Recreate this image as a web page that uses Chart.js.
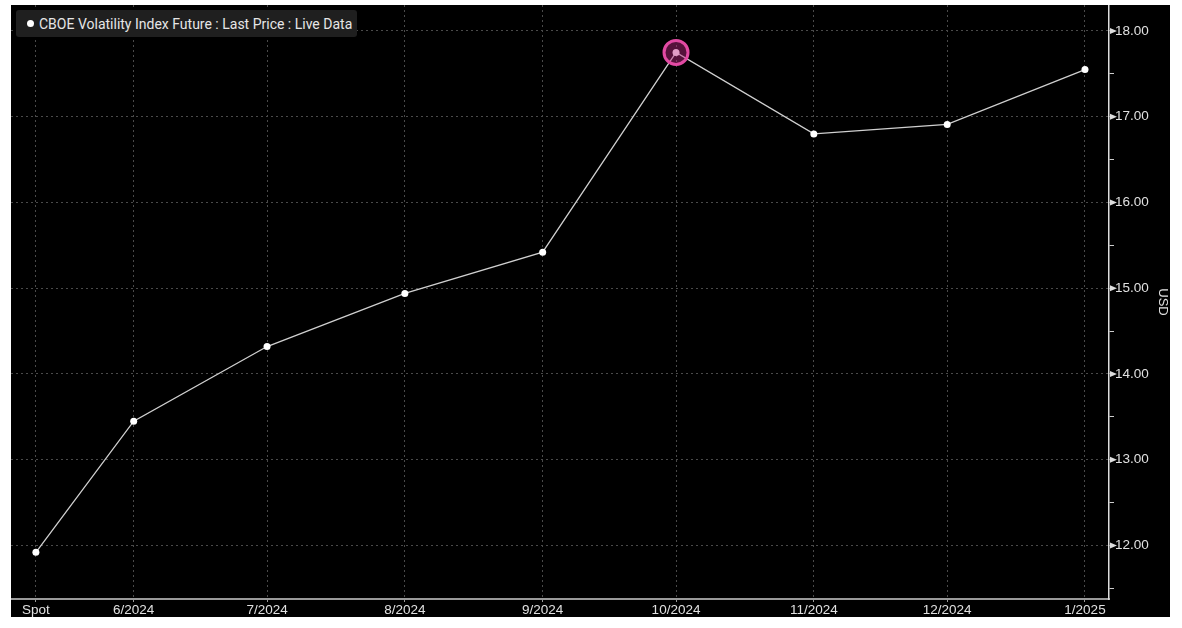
<!DOCTYPE html>
<html lang="en">
<head>
  <meta charset="UTF-8" />
  <title>CBOE Volatility Index Future</title>
  <script src="https://cdn.jsdelivr.net/npm/chart.js"></script>
  <style>
    *{margin:0;padding:0;box-sizing:border-box}
    body{background:#fff;width:1182px;height:628px;overflow:hidden;font-family:Roboto,'Liberation Sans',sans-serif}
    .wrap{position:absolute;left:11px;top:5px;width:1159px;height:612px;background:#000}
    #vixChart{width:100%;height:100%}
    .legend{
      position:absolute;left:16px;top:10px;width:341px;height:27px;padding:0 0 0 11px;
      background:#1f1f1f;border-radius:3px;color:#e6e6e6;font-size:14px;
      display:flex;align-items:center;white-space:nowrap
    }
    .legend-dot{width:7px;height:7px;border-radius:50%;background:#fff;margin-right:5px}
  </style>
</head>
<body>
  <div class="wrap"><canvas id="vixChart"></canvas></div>
  <div class="legend"><span class="legend-dot"></span>CBOE Volatility Index Future : Last Price : Live Data</div>

  <script>
    // contracts on the curve
    const labels = ['Spot', '6/2024', '7/2024', '8/2024', '9/2024', '10/2024', '11/2024', '12/2024', '1/2025'];
    const dates  = ['2024-05-10', '2024-06-01', '2024-07-01', '2024-08-01', '2024-09-01', '2024-10-01', '2024-11-01', '2024-12-01', '2025-01-01'];
    const prices = [11.92, 13.45, 14.32, 14.94, 15.42, 17.75, 16.80, 16.91, 17.55];
    const yTicks = [11.5, 12, 12.5, 13, 13.5, 14, 14.5, 15, 15.5, 16, 16.5, 17, 17.5, 18];
    const hiIdx = 5;

    // days since 1 Jun 2024, so the x axis keeps calendar spacing
    const base = Date.parse('2024-06-01');
    const days = dates.map(d => Math.round((Date.parse(d) - base) / 86400000));

    const pts = days.map((d, i) => ({ x: d, y: prices[i] }));

    // little arrow heads on the major y ticks
    const tickArrows = {
      id: 'tickArrows',
      afterDraw(chart) {
        const y = chart.scales.y, c = chart.ctx;
        c.save();
        c.fillStyle = '#ddd';
        y.ticks.forEach(t => {
          if (!Number.isInteger(t.value)) return;
          const py = y.getPixelForValue(t.value), px = y.left + 1;
          c.beginPath();
          c.moveTo(px, py - 3); c.lineTo(px + 7, py); c.lineTo(px, py + 3);
          c.closePath(); c.fill();
        });
        c.restore();
      }
    };

    new Chart(document.getElementById('vixChart').getContext('2d'), {
      type: 'line',
      data: {
        datasets: [{
          data: [pts[hiIdx]],
          showLine: false,
          pointRadius: 12,
          pointHoverRadius: 12,
          borderWidth: 3,
          pointBorderColor: '#e24aa3',
          pointBackgroundColor: 'rgba(190,40,130,.45)',
          order: 0
        }, {
          data: pts,
          borderColor: '#d0d0d0',
          borderWidth: 1.3,
          pointRadius: 3.5,
          pointBorderWidth: 0,
          pointBackgroundColor: '#fff',
          tension: 0,
          order: 1
        }]
      },
      options: {
        responsive: true,
        maintainAspectRatio: false,
        animation: false,
        layout: { padding: 0, autoPadding: false },
        plugins: { legend: { display: false }, tooltip: { enabled: false } },
        scales: {
          x: {
            type: 'linear',
            min: -27.6,
            max: 219.4,
            afterBuildTicks: s => { s.ticks = days.map(v => ({ value: v })); },
            afterFit: s => { s.height = 18; s.paddingLeft = 0; s.paddingRight = 0; },
            ticks: {
              color: '#e0e0e0', font: { size: 13.5 }, padding: 0, maxRotation: 0, autoSkip: false,
              callback: v => labels[days.indexOf(v)]
            },
            grid: { color: '#4a4a4a', tickColor: '#999', tickLength: 3 },
            border: { color: '#9a9a9a', width: 2, dash: [2, 3] }
          },
          y: {
            position: 'right',
            min: 11.376,
            max: 18.303,
            afterBuildTicks: s => { s.ticks = yTicks.map(v => ({ value: v })); },
            afterFit: s => { s.width = 61; s.paddingTop = 0; s.paddingBottom = 0; },
            ticks: {
              color: '#e0e0e0', font: { size: 13.5 }, padding: 1,
              callback: v => Number.isInteger(v) ? v.toFixed(2) : ''
            },
            grid: {
              color: c => Number.isInteger(c.tick.value) ? '#4a4a4a' : 'transparent',
              tickColor: '#ccc', tickLength: 5
            },
            border: { color: '#ddd', width: 1.5, dash: [2, 3] },
            title: { display: true, text: 'USD', color: '#e0e0e0', font: { size: 13 }, padding: 0 }
          }
        }
      },
      plugins: [tickArrows]
    });
  </script>
</body>
</html>
